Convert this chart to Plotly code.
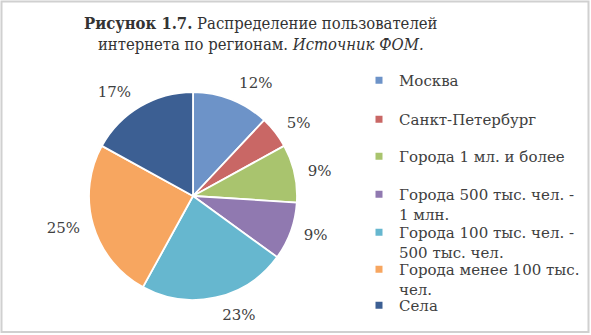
import plotly.graph_objects as go

categories = ["Москва", "Санкт-Петербург", "Города 1 мл. и более",
              "Города 500 тыс. чел. -<br>1 млн.", "Города 100 тыс. чел. -<br>500 тыс. чел.",
              "Города менее 100 тыс.<br>чел.", "Села"]
values = [12, 5, 9, 9, 23, 25, 17]
colors = ["#6d93c8", "#c96765", "#a9c46e", "#9079b0", "#66b7cf", "#f7a660", "#3c5f93"]

W, H = 591, 335
cx, cy, R = 193, 196, 104
RL = R + 9  # radius of invisible label ring

def dom(r):
    return dict(x=[(cx - r) / W, (cx + r) / W], y=[(H - cy - r) / H, (H - cy + r) / H])

fig = go.Figure()
fig.add_trace(go.Pie(
    labels=categories, values=values, sort=False, direction="clockwise", rotation=0,
    marker=dict(colors=colors, line=dict(color="white", width=1.8)),
    textinfo="none", domain=dom(R), showlegend=False,
    hoverinfo="label+percent",
))
# invisible ring that only carries the outside percentage labels
fig.add_trace(go.Pie(
    labels=categories, values=values, sort=False, direction="clockwise", rotation=0,
    marker=dict(colors=["rgba(0,0,0,0)"] * len(values), line=dict(width=0)),
    textposition="outside", texttemplate="%{value}%",
    textfont=dict(family="DejaVu Serif", size=15, color="#404040"),
    domain=dom(RL), showlegend=False, hoverinfo="skip",
))

# legend entries (one small legend per entry to match the spacing)
item_y = [78, 117, 154, 192, 230, 267, 303]
layout_legends = {}
for i, (cat, col) in enumerate(zip(categories, colors)):
    lname = "legend" if i == 0 else f"legend{i + 1}"
    fig.add_trace(go.Scatter(
        x=[None], y=[None], mode="markers", name=cat,
        marker=dict(symbol="square", size=7, color=col),
        legend=lname, showlegend=True, hoverinfo="skip",
    ))
    layout_legends[lname] = dict(
        x=359 / W, y=1 - (item_y[i] - 14) / H, xanchor="left", yanchor="top",
        font=dict(family="DejaVu Serif", size=15, color="#404040"),
        valign="top", bgcolor="rgba(0,0,0,0)", itemclick=False, itemdoubleclick=False,
    )

fig.add_annotation(
    text="<b>Рисунок 1.7.</b> Распределение пользователей<br>интернета по регионам. <i>Источник ФОМ.</i>",
    x=261 / W, y=1 - 12 / H, xref="paper", yref="paper", xanchor="center", yanchor="top",
    showarrow=False, align="center",
    font=dict(family="DejaVu Serif Condensed, DejaVu Serif", size=16.5, color="#333333"),
)

fig.add_shape(type="rect", xref="paper", yref="paper", x0=1.5 / W, x1=1 - 2.5 / W, y0=3 / H, y1=1 - 1.5 / H,
              line=dict(color="#d0d0d0", width=2), fillcolor="rgba(0,0,0,0)", layer="below")

fig.update_layout(
    width=W, height=H,
    margin=dict(l=0, r=0, t=0, b=0, autoexpand=False),
    paper_bgcolor="white", plot_bgcolor="white",
    showlegend=True,
    xaxis=dict(visible=False), yaxis=dict(visible=False),
    **layout_legends,
)

fig.write_html("out.html")
